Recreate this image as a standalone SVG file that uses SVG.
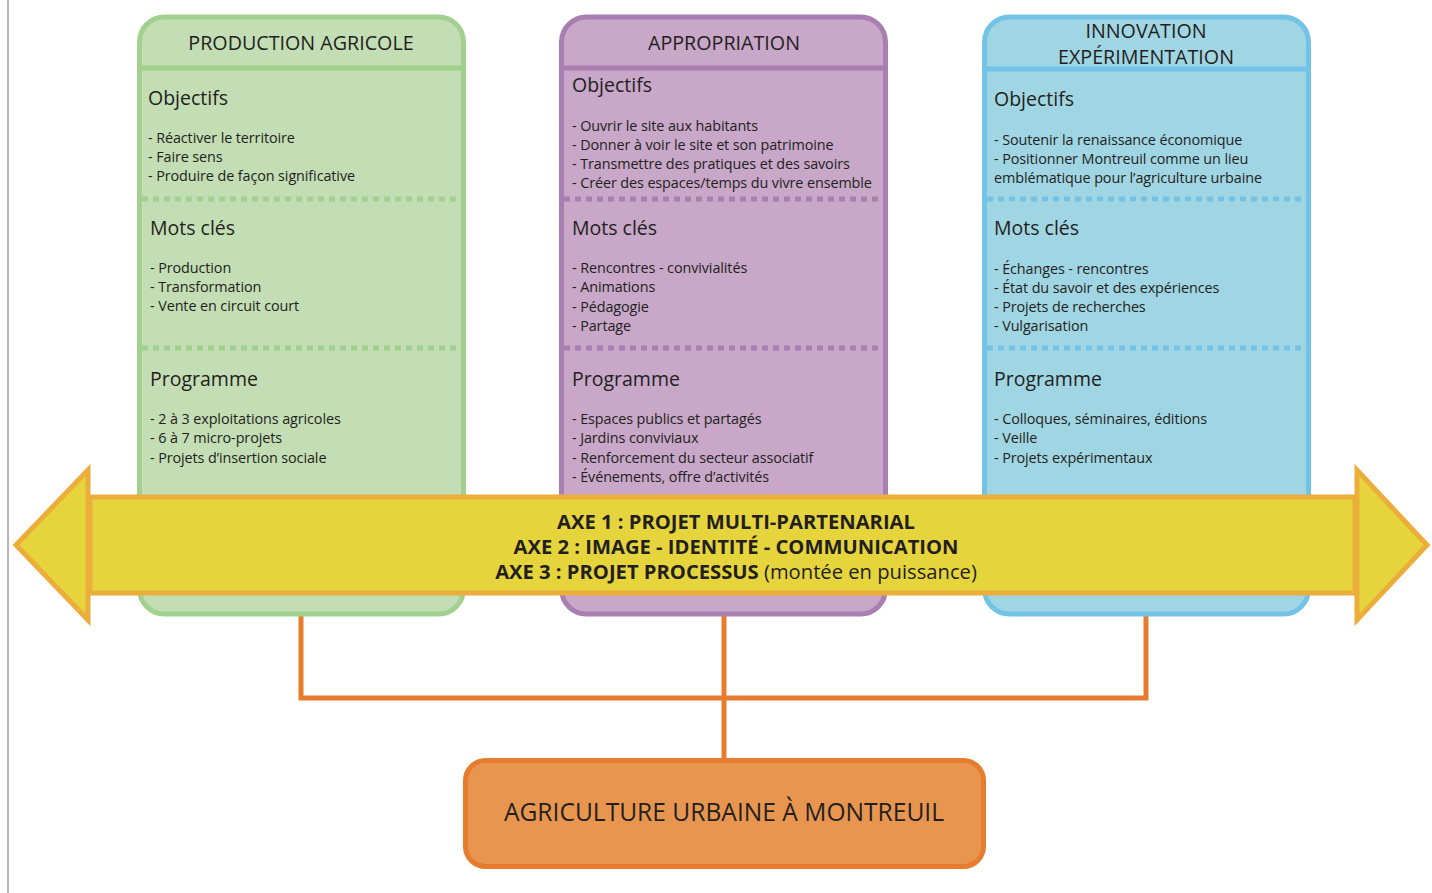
<svg xmlns="http://www.w3.org/2000/svg" width="1432" height="893" viewBox="0 0 1432 893">
<style>
text{font-family:"Open Sans","Noto Sans","Liberation Sans",sans-serif;fill:#231f20}
.title{font-size:19.7px;text-anchor:middle}
.h{font-size:19.5px}
.it{font-size:14.4px;letter-spacing:-0.1px}
.axe{font-size:20.2px;font-weight:bold;text-anchor:middle}
.axe tspan.n{font-weight:normal}
.g{fill:#c3ddb4;stroke:#a2d08e}
.p{fill:#c8a7c8;stroke:#a87fb0}
.b{fill:#a0d5e3;stroke:#72c3e5}
.col{stroke-width:5}
.sep{stroke-width:5;fill:none}
.dash{stroke-width:5;fill:none;stroke-dasharray:6 5}
.conn{stroke:#e77c2e;stroke-width:5;fill:none}
.arrow{fill:#e6d43c;stroke:#ebae3a;stroke-width:5;stroke-linejoin:miter}
</style>
<line x1="8" y1="0" x2="8" y2="893" stroke="#b5b5b5" stroke-width="2"/>
<g id="connectors">
<polyline class="conn" points="301,612 301,698 1146,698 1146,612"/>
<line class="conn" x1="724" y1="612" x2="724" y2="760"/>
</g>
<g id="col-production">
<rect class="g col" x="139.5" y="17" width="324" height="597" rx="25"/>
<line class="sep" stroke="#a2d08e" x1="139.5" y1="68" x2="463.5" y2="68"/>
<line class="dash" stroke="#a2d08e" x1="142" y1="199" x2="461" y2="199"/>
<line class="dash" stroke="#a2d08e" x1="142" y1="348" x2="461" y2="348"/>
<text class="title" x="301" y="50">PRODUCTION AGRICOLE</text>
<text class="h" x="148" y="105">Objectifs</text>
<text class="it" x="148" y="143">- Réactiver le territoire</text>
<text class="it" x="148" y="162">- Faire sens</text>
<text class="it" x="148" y="181">- Produire de façon significative</text>
<text class="h" x="150" y="235">Mots clés</text>
<text class="it" x="150" y="273">- Production</text>
<text class="it" x="150" y="292">- Transformation</text>
<text class="it" x="150" y="311">- Vente en circuit court</text>
<text class="h" x="150" y="386">Programme</text>
<text class="it" x="150" y="424">- 2 à 3 exploitations agricoles</text>
<text class="it" x="150" y="443">- 6 à 7 micro-projets</text>
<text class="it" x="150" y="463">- Projets d’insertion sociale</text>
</g>
<g id="col-appropriation">
<rect class="p col" x="561.5" y="17" width="324" height="597" rx="25"/>
<line class="sep" stroke="#a87fb0" x1="561.5" y1="68" x2="885.5" y2="68"/>
<line class="dash" stroke="#a87fb0" x1="564" y1="199" x2="883" y2="199"/>
<line class="dash" stroke="#a87fb0" x1="564" y1="348" x2="883" y2="348"/>
<text class="title" x="724" y="50">APPROPRIATION</text>
<text class="h" x="572" y="92">Objectifs</text>
<text class="it" x="572" y="131">- Ouvrir le site aux habitants</text>
<text class="it" x="572" y="150">- Donner à voir le site et son patrimoine</text>
<text class="it" x="572" y="169">- Transmettre des pratiques et des savoirs</text>
<text class="it" x="572" y="188">- Créer des espaces/temps du vivre ensemble</text>
<text class="h" x="572" y="235">Mots clés</text>
<text class="it" x="572" y="273">- Rencontres - convivialités</text>
<text class="it" x="572" y="292">- Animations</text>
<text class="it" x="572" y="312">- Pédagogie</text>
<text class="it" x="572" y="331">- Partage</text>
<text class="h" x="572" y="386">Programme</text>
<text class="it" x="572" y="424">- Espaces publics et partagés</text>
<text class="it" x="572" y="443">- Jardins conviviaux</text>
<text class="it" x="572" y="463">- Renforcement du secteur associatif</text>
<text class="it" x="572" y="482">- Événements, offre d’activités</text>
</g>
<g id="col-innovation">
<rect class="b col" x="984.5" y="17" width="324" height="597" rx="25"/>
<line class="sep" stroke="#72c3e5" x1="984.5" y1="69" x2="1308.5" y2="69"/>
<line class="dash" stroke="#72c3e5" x1="987" y1="199" x2="1306" y2="199"/>
<line class="dash" stroke="#72c3e5" x1="987" y1="348" x2="1306" y2="348"/>
<text class="title" x="1146" y="38">INNOVATION</text>
<text class="title" x="1146" y="64">EXPÉRIMENTATION</text>
<text class="h" x="994" y="106">Objectifs</text>
<text class="it" x="994" y="145">- Soutenir la renaissance économique</text>
<text class="it" x="994" y="164">- Positionner Montreuil comme un lieu</text>
<text class="it" x="994" y="183">emblématique pour l’agriculture urbaine</text>
<text class="h" x="994" y="235">Mots clés</text>
<text class="it" x="994" y="274">- Échanges - rencontres</text>
<text class="it" x="994" y="293">- État du savoir et des expériences</text>
<text class="it" x="994" y="312">- Projets de recherches</text>
<text class="it" x="994" y="331">- Vulgarisation</text>
<text class="h" x="994" y="386">Programme</text>
<text class="it" x="994" y="424">- Colloques, séminaires, éditions</text>
<text class="it" x="994" y="443">- Veille</text>
<text class="it" x="994" y="463">- Projets expérimentaux</text>
</g>
<g id="axes-arrow">
<rect class="arrow" x="90" y="497" width="1265" height="96"/>
<polygon class="arrow" points="88,470 88,620 16,545"/>
<polygon class="arrow" points="1357,470 1357,620 1427,545"/>
<text class="axe" x="736" y="529">AXE 1 : PROJET MULTI-PARTENARIAL</text>
<text class="axe" x="736" y="554">AXE 2 : IMAGE - IDENTITÉ - COMMUNICATION</text>
<text class="axe" x="736" y="579">AXE 3 : PROJET PROCESSUS <tspan class="n">(montée en puissance)</tspan></text>
</g>
<g id="agriculture-urbaine">
<rect x="465.5" y="760.5" width="518" height="106" rx="20" fill="#e8964f" stroke="#e67d2e" stroke-width="5"/>
<text x="724" y="821" font-size="24.6" text-anchor="middle">AGRICULTURE URBAINE À MONTREUIL</text>
</g>
</svg>
